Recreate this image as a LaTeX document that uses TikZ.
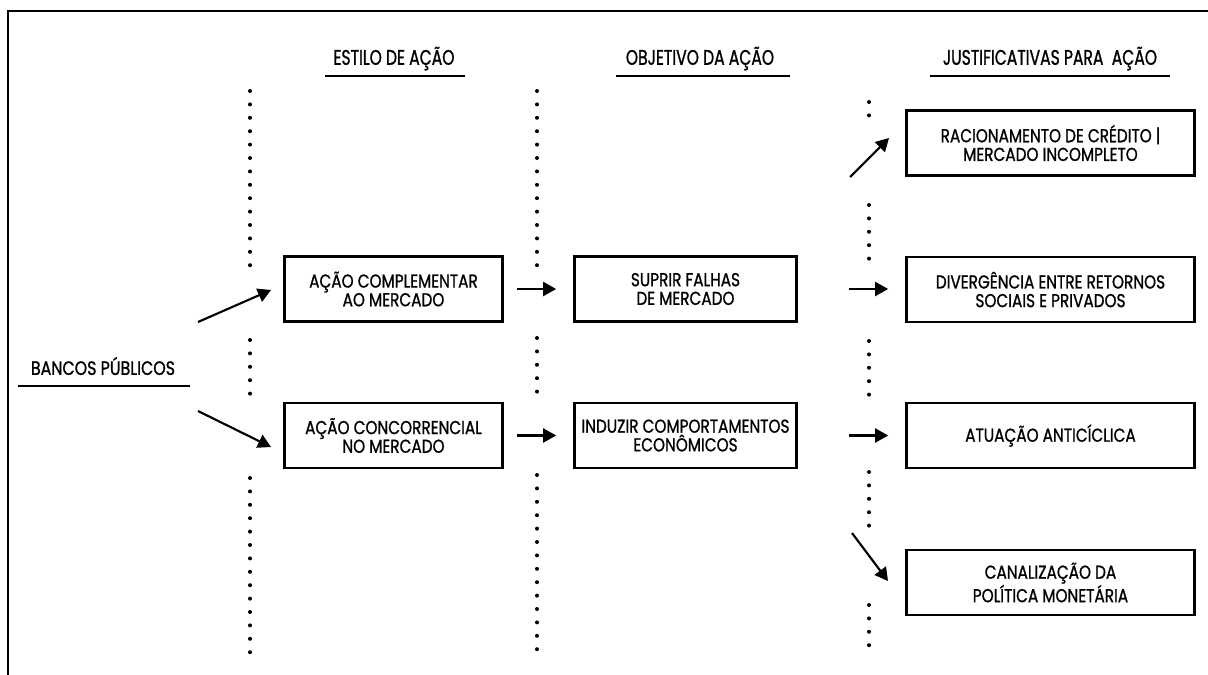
\documentclass[tikz,border=0pt]{standalone}
\usepackage{fontspec}
\setmainfont{Poppins}
\newfontfamily\bodyf[FakeStretch=0.82,FakeBold=1.0]{Poppins}
\newfontfamily\headf[FakeStretch=0.74,FakeBold=1.0]{Poppins}
\usetikzlibrary{arrows.meta}
\tikzset{
  boxst/.style={draw, line width=2pt, align=center, inner sep=0pt,
    minimum height=48.75pt, font=\bodyf\fontsize{14pt}{14pt}\selectfont},
  wA/.style={minimum width=163.5pt},
  wB/.style={minimum width=166.5pt},
  wC/.style={minimum width=216pt},
  headst/.style={inner sep=0pt, font=\headf\fontsize{15.8pt}{16pt}\selectfont},
  uline/.style={line width=1.5pt},
  dotline/.style={line width=3pt, line cap=round, dash pattern=on 0pt off 10.05pt},
  arr/.style={line width=1.6pt, -{Triangle[length=9.75pt,width=10.5pt]}},
}
\begin{document}
\begin{tikzpicture}[x=0.75pt,y=-0.75pt]
\useasboundingbox (0,0) rectangle (1208,675);
% frame
\draw[line width=1.5pt] (8,675) -- (8,11) -- (1208,11);

% headers
\node[headst] (h1) at (394,58.5) {ESTILO DE AÇÃO};
\node[headst] (h2) at (700,58.5) {OBJETIVO DA AÇÃO};
\node[headst] (h3) at (1050,58.5) {JUSTIFICATIVAS PARA\ \ AÇÃO};
\draw[uline] (325,76) -- (465,76);
\draw[uline] (616,76) -- (790,76);
\draw[uline] (930,76) -- (1170,76);

% left label
\node[inner sep=0pt, font=\bodyf\fontsize{14.5pt}{14pt}\selectfont] (bp) at (103,366) {BANCOS PÚBLICOS};
\draw[uline] (18,386) -- (190,386);

% boxes
\node[boxst,wA] (c1) at (393.5,289) {AÇÃO COMPLEMENTAR\\AO MERCADO};
\node[boxst,wA] (c2) at (393.5,435.5) {AÇÃO CONCORRENCIAL\\NO MERCADO};
\node[boxst,wB] (o1) at (685.5,289) {SUPRIR FALHAS\\DE MERCADO};
\node[boxst,wB] (o2) at (685.5,435.5) {INDUZIR COMPORTAMENTOS\\ECONÔMICOS};
\node[boxst,wC] (j1) at (1050.5,143) {RACIONAMENTO DE CRÉDITO |\\MERCADO INCOMPLETO};
\node[boxst,wC] (j2) at (1050.5,289.5) {DIVERGÊNCIA ENTRE RETORNOS\\SOCIAIS E PRIVADOS};
\node[boxst,wC] (j3) at (1050.5,435.5) {ATUAÇÃO ANTICÍCLICA};
\node[boxst,wC] (j4) at (1050.5,582.5) {CANALIZAÇÃO DA\\POLÍTICA MONETÁRIA};

% dotted separators
\draw[dotline] (250,91) -- (250,266);
\draw[dotline] (250,340) -- (250,394);
\draw[dotline] (250,478) -- (250,653);
\draw[dotline] (537,91) -- (537,266);
\draw[dotline] (537,338) -- (537,392);
\draw[dotline] (537,475) -- (537,650);
\draw[dotline] (869,102) -- (869,116);
\draw[dotline] (869,205) -- (869,259);
\draw[dotline] (869,341) -- (869,395);
\draw[dotline] (869,472) -- (869,526);
\draw[dotline] (869,605) -- (869,646);

% arrows
\coordinate (b1s) at (198,322);
\coordinate (b1e) at (271,290);
\coordinate (b2s) at (198,411);
\coordinate (b2e) at (271,447);
\draw[arr] (b1s) -- (b1e);
\draw[arr] (b2s) -- (b2e);
\draw[arr, shorten <=9.75pt, shorten >=12.75pt] (c1.east) -- (o1.west);
\draw[arr, shorten <=9.75pt, shorten >=12.75pt] (c2.east) -- (o2.west);
\draw[arr, shorten <=38.25pt, shorten >=12.75pt] (o1.east) -- (j2.west |- o1.east);
\draw[arr, shorten <=38.25pt, shorten >=12.75pt] (o2.east) -- (j3.west |- o2.east);
\coordinate (d1s) at (850,177);
\coordinate (d1e) at (889,138);
\coordinate (d2s) at (852,533);
\coordinate (d2e) at (888,581);
\draw[arr] (d1s) -- (d1e);
\draw[arr] (d2s) -- (d2e);
\end{tikzpicture}
\end{document}
